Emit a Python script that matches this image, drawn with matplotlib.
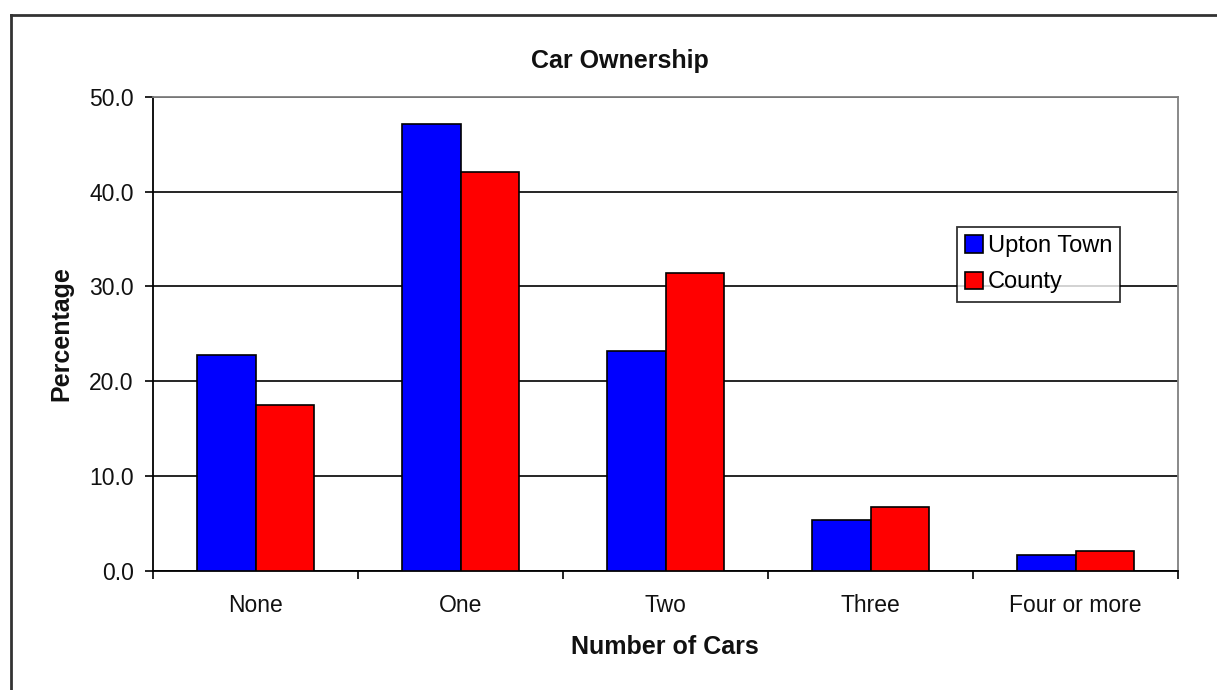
import matplotlib
matplotlib.use("Agg")
import matplotlib.pyplot as plt
import numpy as np
from matplotlib.lines import Line2D

categories = ["None", "One", "Two", "Three", "Four or more"]
upton_town = [22.8, 47.2, 23.2, 5.4, 1.7]
county = [17.5, 42.1, 31.4, 6.7, 2.1]
series_names = ["Upton Town", "County"]
yticks = [0, 10, 20, 30, 40, 50]

plt.rcParams['font.family'] = ['Liberation Sans', 'DejaVu Sans']

W, H = 1217, 690
fig = plt.figure(figsize=(W / 100, H / 100), dpi=100)
ax = fig.add_axes([153 / W, 1 - 570.7 / H, (1178 - 153) / W, (570.7 - 97) / H])

x = np.arange(len(categories))
bw = 0.286
ax.bar(x - bw / 2, upton_town, bw, color="#0000FF", edgecolor="black", linewidth=1.2,
       label=series_names[0], zorder=3)
ax.bar(x + bw / 2, county, bw, color="#FF0000", edgecolor="black", linewidth=1.2,
       label=series_names[1], zorder=3)

ax.set_xlim(-0.5, len(categories) - 0.5)
ax.set_ylim(0, 50)
ax.set_yticks(yticks)
ax.set_yticklabels([f"{v:.1f}" for v in yticks], fontsize=16.5, color="#111111")
ax.set_xticks(x)
ax.set_xticklabels(categories, fontsize=16.5, color="#111111")
ax.set_xticks(np.arange(-0.5, len(categories), 1), minor=True)
ax.tick_params(axis="x", which="major", length=0, pad=17)
ax.tick_params(axis="x", which="minor", length=6, width=1.2, direction="out")
ax.tick_params(axis="y", length=6, width=1.2, direction="out", pad=8)

ax.yaxis.grid(True, color="black", linewidth=1.2, zorder=0)
ax.set_axisbelow(True)
for s in ["left", "bottom"]:
    ax.spines[s].set_color("black")
    ax.spines[s].set_linewidth(1.3)
for s in ["top", "right"]:
    ax.spines[s].set_color("#808080")
    ax.spines[s].set_linewidth(1.3)

fig.text(620 / W, 1 - 61 / H, "Car Ownership", ha="center", va="center",
         fontsize=18, fontweight="bold", color="#111111")
fig.text(61 / W, 1 - 334 / H, "Percentage", ha="center", va="center",
         rotation=90, fontsize=18, fontweight="bold", color="#111111")
fig.text(665 / W, 1 - 647 / H, "Number of Cars", ha="center", va="center",
         fontsize=18, fontweight="bold", color="#111111")

leg = ax.legend(loc="upper left", bbox_to_anchor=((957 - 153) / (1178 - 153), (570.7 - 227) / (570.7 - 97)),
                fontsize=17, frameon=True, fancybox=False, edgecolor="black",
                handlelength=0.75, handleheight=0.75, handletextpad=0.2,
                borderpad=0.35, labelspacing=0.6, borderaxespad=0)
leg.get_frame().set_linewidth(1.3)
leg.set_zorder(5)

# outer chart border
fig.add_artist(Line2D([10.5 / W, 10.5 / W], [0, 1 - 14.5 / H], color="#333333",
                      linewidth=2, transform=fig.transFigure))
fig.add_artist(Line2D([10.5 / W, 1], [1 - 14.5 / H, 1 - 14.5 / H], color="#333333",
                      linewidth=2, transform=fig.transFigure))

fig.savefig("out.png", dpi=100)
